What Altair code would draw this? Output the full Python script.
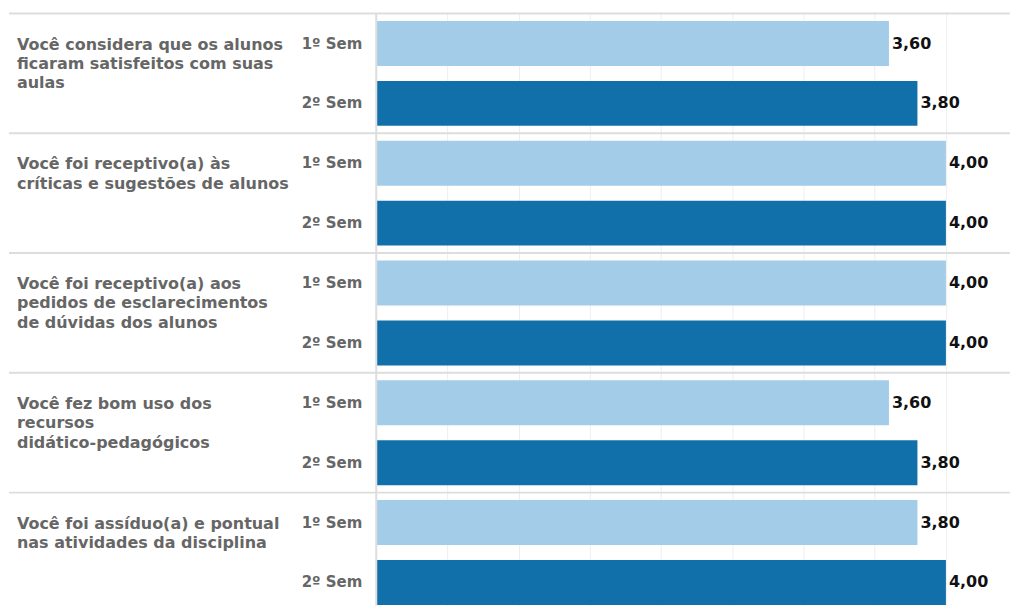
import altair as alt
import pandas as pd

questions = [
    "Você considera que os alunos\nficaram satisfeitos com suas\naulas",
    "Você foi receptivo(a) às\ncríticas e sugestões de alunos",
    "Você foi receptivo(a) aos\npedidos de esclarecimentos\nde dúvidas dos alunos",
    "Você fez bom uso dos\nrecursos\ndidático-pedagógicos",
    "Você foi assíduo(a) e pontual\nnas atividades da disciplina",
]
semesters = ["1º Sem", "2º Sem"]
sem1 = [3.6, 4.0, 4.0, 3.6, 3.8]
sem2 = [3.8, 4.0, 4.0, 3.8, 4.0]
grid_values = [0.5, 1.0, 1.5, 2.0, 2.5, 3.0, 3.5, 4.0]
colors = ["#a3cce9", "#1170aa"]

rows = []
for q, a, b in zip(questions, sem1, sem2):
    rows.append({"pergunta": q, "sem": semesters[0], "valor": a})
    rows.append({"pergunta": q, "sem": semesters[1], "valor": b})
df = pd.DataFrame(rows)

FONT = "DejaVu Sans"
W = 635
H = 593
STEP = 120

yq = alt.Y("pergunta:N", sort=questions, axis=None,
           scale=alt.Scale(paddingInner=0, paddingOuter=0, range=[0, STEP * len(questions)]))
yq_top = alt.Y("pergunta:N", sort=questions, axis=None, bandPosition=0,
               scale=alt.Scale(paddingInner=0, paddingOuter=0, range=[0, STEP * len(questions)]))
yoff = alt.YOffset("sem:N", sort=semesters,
                   scale=alt.Scale(paddingInner=0.25, paddingOuter=0.125))
xq = alt.X(
    "valor:Q",
    scale=alt.Scale(domain=[0, 4.45], nice=False),
    axis=alt.Axis(values=grid_values, labels=False, ticks=False, domain=False,
                  grid=True, gridColor="#eeeeee", gridWidth=1, title=None,
                  labelPadding=0, orient="top"),
)

base = alt.Chart(df)

bars = base.mark_bar().encode(
    x=xq,
    y=yq,
    yOffset=yoff,
    color=alt.Color("sem:N", scale=alt.Scale(domain=semesters, range=colors), legend=None),
)

values = base.transform_calculate(
    rotulo="replace(format(datum.valor, '.2f'), '.', ',')"
).mark_text(align="left", baseline="middle", dx=3, fontSize=16, font=FONT,
            fontWeight="bold", color="#111111").encode(
    x="valor:Q",
    y=yq,
    yOffset=yoff,
    text="rotulo:N",
)

semlabels = base.mark_text(align="right", baseline="middle", fontSize=15, font=FONT,
                           fontWeight="bold", color="#666666").encode(
    x=alt.value(-14),
    y=yq,
    yOffset=yoff,
    text="sem:N",
)

qtext = base.transform_filter(
    alt.datum.sem == semesters[0]
).mark_text(align="left", baseline="alphabetic", lineBreak="\n", lineHeight=19.5,
            dy=36, fontSize=16, font=FONT, fontWeight="bold", color="#666666").encode(
    x=alt.value(-360),
    y=yq_top,
    text="pergunta:N",
)

sep = base.transform_filter(
    alt.datum.sem == semesters[0]
).mark_rule(color="#dddddd", strokeWidth=2).encode(
    x=alt.value(-368),
    x2=alt.value(W),
    y=yq_top,
)

vline = alt.Chart(pd.DataFrame({"k": [0]})).mark_rule(
    color="#dddddd", strokeWidth=2
).encode(
    x=alt.value(0),
    y=alt.value(0),
    y2=alt.value(H),
)

chart = alt.layer(bars, values, semlabels, qtext, sep, vline).properties(
    width=W, height=H,
    padding={"left": 8, "top": 12, "right": 0, "bottom": 0},
    background="white",
).configure_view(stroke=None)

chart.save("out.html", embed_options={"renderer": "svg", "actions": False})
